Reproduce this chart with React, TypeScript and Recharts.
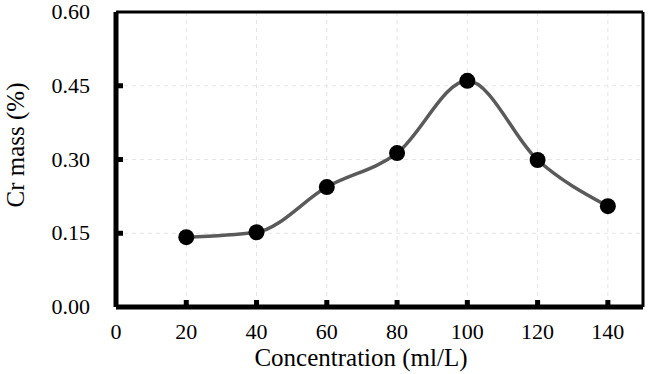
import { LineChart, Line, XAxis, YAxis, CartesianGrid, ReferenceLine } from "recharts";

const concentrations = [20, 40, 60, 80, 100, 120, 140];
const crMass = [0.142, 0.152, 0.244, 0.313, 0.46, 0.299, 0.205];
const xTicks = [0, 20, 40, 60, 80, 100, 120, 140];
const yTicks = [0, 0.15, 0.3, 0.45, 0.6];

const data = concentrations.map((c, i) => ({ c, v: crMass[i] }));

const font = "'Liberation Serif', 'Times New Roman', serif";

const XTick = (props: any) => {
  const { x, y, payload } = props;
  const v = payload.value;
  return (
    <g>
      {v !== 0 && <rect x={x - 2.5} y={y - 7} width={5} height={6} fill="#000" />}
      <text x={x} y={y + 32} textAnchor="middle" fontSize={22} fontFamily={font} fill="#000">
        {v}
      </text>
    </g>
  );
};

const YTick = (props: any) => {
  const { x, y, payload } = props;
  const v = payload.value;
  return (
    <g>
      {v !== 0 && v !== 0.6 && <rect x={x + 1} y={y - 2.5} width={6} height={5} fill="#000" />}
      <text x={x - 26} y={y + 7} textAnchor="end" fontSize={22} fontFamily={font} fill="#000">
        {v.toFixed(2)}
      </text>
    </g>
  );
};

const XLabel = () => (
  <text x={361} y={366} textAnchor="middle" fontSize={25} fontFamily={font} fill="#000">
    Concentration (ml/L)
  </text>
);

const YLabel = () => (
  <text x={24} y={145} transform="rotate(-90 24 145)" textAnchor="middle" fontSize={25} fontFamily={font} fill="#000">
    Cr mass (%)
  </text>
);

export default function App() {
  return (
    <div style={{ position: "absolute", left: 0, top: 0, background: "#fff" }}>
      <LineChart width={649} height={374} data={data} margin={{ top: 12, right: 6, bottom: 0, left: 0 }}>
        <CartesianGrid stroke="#e6e6e6" strokeDasharray="4 4" />
        <ReferenceLine y={0.6} stroke="#000" strokeWidth={3} />
        <ReferenceLine x={150} stroke="#000" strokeWidth={3} />
        <XAxis
          dataKey="c"
          type="number"
          domain={[0, 150]}
          ticks={xTicks}
          tickSize={0}
          tickMargin={0}
          tick={<XTick />}
          axisLine={{ stroke: "#000", strokeWidth: 5 }}
          height={67}
          label={<XLabel />}
        />
        <YAxis
          type="number"
          domain={[0, 0.6]}
          ticks={yTicks}
          tickSize={0}
          tickMargin={0}
          tick={<YTick />}
          axisLine={{ stroke: "#000", strokeWidth: 5 }}
          width={116}
          label={<YLabel />}
        />
        <Line
          type="monotone"
          dataKey="v"
          stroke="#5a5a5a"
          strokeWidth={3.5}
          dot={{ r: 8, fill: "#000", stroke: "#000", strokeWidth: 0 }}
          isAnimationActive={false}
        />
      </LineChart>
    </div>
  );
}
